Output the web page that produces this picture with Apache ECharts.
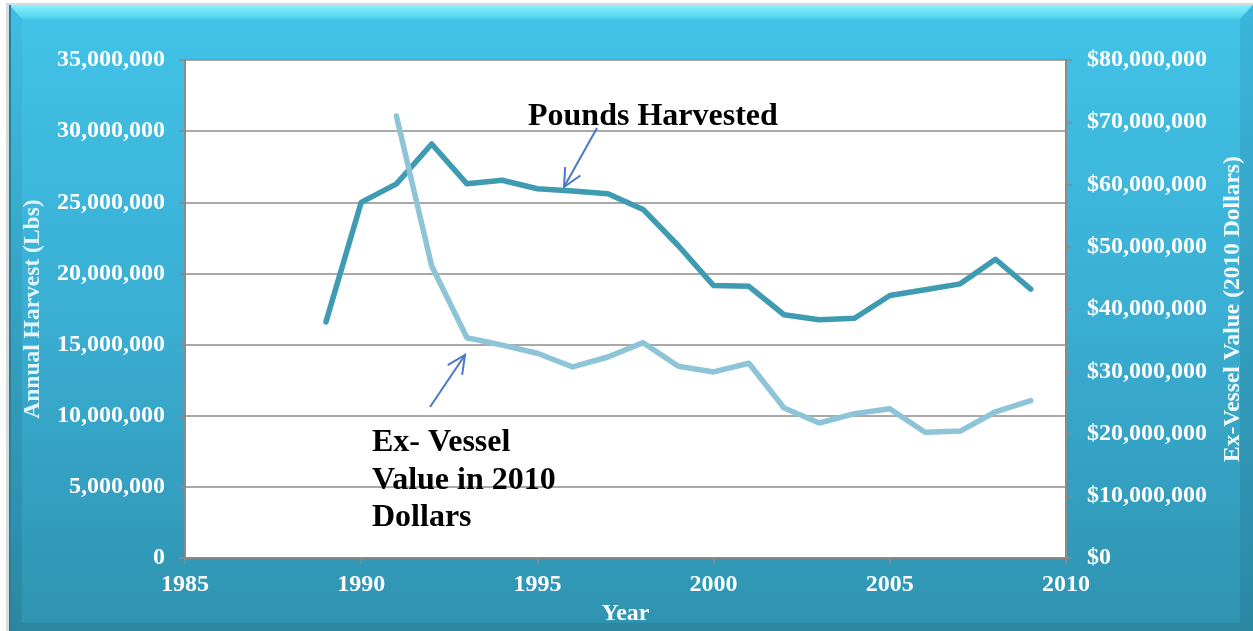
<!DOCTYPE html>
<html><head><meta charset="utf-8">
<script src="https://cdn.jsdelivr.net/npm/echarts@6/dist/echarts.min.js"></script>
<style>html,body{margin:0;padding:0;background:#fff}#c{width:1253px;height:631px}</style>
</head><body><div id="c"></div>
<script>
// ---- data ----
const poundsYears = [1989,1990,1991,1992,1993,1994,1995,1996,1997,1998,1999,2000,2001,2002,2003,2004,2005,2006,2007,2008,2009];
const poundsHarvested = [16600000,25000000,26300000,29100000,26300000,26550000,25950000,25800000,25600000,24500000,21950000,19150000,19100000,17100000,16750000,16850000,18450000,18850000,19270000,21000000,18900000];
const valueYears = [1991,1992,1993,1994,1995,1996,1997,1998,1999,2000,2001,2002,2003,2004,2005,2006,2007,2008,2009];
const exVesselValue = [71000000,46900000,35400000,34200000,32900000,30700000,32300000,34600000,30800000,29900000,31300000,24100000,21700000,23200000,24000000,20200000,20400000,23500000,25300000];
const xTicks = [1985,1990,1995,2000,2005,2010];
const leftTicks = [0,5000000,10000000,15000000,20000000,25000000,30000000,35000000];
const rightTicks = [0,10000000,20000000,30000000,40000000,50000000,60000000,70000000,80000000];

const FONT = "'Liberation Serif','Times New Roman',serif";
const fmt = v => String(Math.round(v)).replace(/\B(?=(\d{3})+(?!\d))/g, ',');

function arrow(x1, y1, x2, y2, color) {
  const a = Math.atan2(y2 - y1, x2 - x1), L = 20, w = 0.45;
  const p1 = [x2 - L * Math.cos(a - w), y2 - L * Math.sin(a - w)];
  const p2 = [x2 - L * Math.cos(a + w), y2 - L * Math.sin(a + w)];
  return [
    { type: 'line', z: 100, shape: { x1, y1, x2, y2 }, style: { stroke: color, lineWidth: 2 } },
    { type: 'polyline', z: 100, shape: { points: [p1, [x2, y2], p2] }, style: { stroke: color, lineWidth: 2, fill: null } }
  ];
}

const chart = echarts.init(document.getElementById('c'), null, { renderer: 'canvas' });
const W = 1253, H = 631;
const bg = [
  { type: 'rect', z: -10, silent: true, shape: { x: 0, y: 0, width: W, height: H }, style: { fill: '#ffffff' } },
  { type: 'rect', z: -9, silent: true, shape: { x: 6, y: 3, width: W - 6, height: H - 3 }, style: { fill: '#d5dcde' } },
  { type: 'rect', z: -8, silent: true, shape: { x: 9, y: 5, width: W - 9, height: H - 5 },
    style: { fill: new echarts.graphic.LinearGradient(0, 0, 0, 1, [
      { offset: 0, color: '#42c3e8' }, { offset: 0.5, color: '#3aaed3' }, { offset: 1, color: '#2f93b0' }]) } },
  { type: 'polygon', z: -7, silent: true, shape: { points: [[9,5],[W,5],[W-13,19],[22,19]] },
    style: { fill: new echarts.graphic.LinearGradient(0, 0, 0, 1, [
      { offset: 0, color: '#86f2fc' }, { offset: 1, color: '#4fd0ee' }]) } },
  { type: 'polygon', z: -7, silent: true, shape: { points: [[9,5],[22,19],[22,H-8],[9,H]] },
    style: { fill: new echarts.graphic.LinearGradient(0, 0, 0, 1, [
      { offset: 0, color: '#3fbde2' }, { offset: 1, color: '#2a87a2' }]) } },
  { type: 'polygon', z: -7, silent: true, shape: { points: [[W,5],[W,H],[W-13,H-8],[W-13,19]] },
    style: { fill: new echarts.graphic.LinearGradient(0, 0, 0, 1, [
      { offset: 0, color: '#3cb6dc' }, { offset: 1, color: '#2b88a3' }]) } },
  { type: 'polygon', z: -7, silent: true, shape: { points: [[9,H],[22,H-8],[W-13,H-8],[W,H]] },
    style: { fill: '#2c86a0' } },
  { type: 'rect', z: -6, silent: true, shape: { x: 9, y: 5, width: 2, height: H - 5 }, style: { fill: '#2a7f98' } }
];

const annotations = [
  { type: 'text', z: 100, left: 528, top: 101, style: { text: 'Pounds Harvested', font: "bold 32px " + FONT, fill: '#000' } },
  { type: 'text', z: 100, left: 372, top: 424, style: { text: 'Ex- Vessel\nValue in 2010\nDollars', font: "bold 32px " + FONT, lineHeight: 37.5, fill: '#000' } },
  ...arrow(597, 128, 564, 187, '#4a78c4'),
  ...arrow(430, 407, 465, 355, '#4a78c4')
];

const labelStyle = { color: '#ffffff', fontFamily: FONT, fontWeight: 'bold', fontSize: 24 };

chart.setOption({
  animation: false,
  backgroundColor: 'transparent',
  grid: { left: 185, right: 185, top: 60, bottom: 63, show: true, backgroundColor: '#ffffff', borderWidth: 0 },
  graphic: bg.concat(annotations),
  xAxis: {
    type: 'value', min: xTicks[0], max: xTicks[xTicks.length - 1], interval: 5,
    name: 'Year', nameLocation: 'middle', nameGap: 36,
    nameTextStyle: { color: '#ffffff', fontFamily: FONT, fontWeight: 'bold', fontSize: 24 },
    axisLine: { show: true, onZero: false, lineStyle: { color: '#8a8a8a', width: 2 } },
    axisTick: { show: true, length: 6, lineStyle: { color: '#8a8a8a', width: 1.5 } },
    axisLabel: Object.assign({ margin: 15, formatter: v => String(v) }, labelStyle),
    splitLine: { show: false }
  },
  yAxis: [
    {
      type: 'value', min: leftTicks[0], max: leftTicks[leftTicks.length - 1], interval: 5000000, position: 'left',
      name: 'Annual Harvest (Lbs)', nameLocation: 'middle', nameGap: 140, nameRotate: 90,
      nameTextStyle: { color: '#e2f5fa', fontFamily: FONT, fontWeight: 'bold', fontSize: 23.5 },
      axisLine: { show: true, lineStyle: { color: '#8a8a8a', width: 2 } },
      axisTick: { show: true, length: 6, lineStyle: { color: '#8a8a8a', width: 1.5 } },
      axisLabel: Object.assign({ margin: 20, formatter: fmt }, labelStyle),
      splitLine: { show: true, lineStyle: { color: '#8c8c8c', width: 1.5 } }
    },
    {
      type: 'value', min: rightTicks[0], max: rightTicks[rightTicks.length - 1], interval: 10000000, position: 'right',
      name: 'Ex-Vessel Value (2010 Dollars)', nameLocation: 'middle', nameGap: 155, nameRotate: 90,
      nameTextStyle: { color: '#f0fafc', fontFamily: FONT, fontWeight: 'bold', fontSize: 23.5 },
      axisLine: { show: true, lineStyle: { color: '#8a8a8a', width: 2 } },
      axisTick: { show: true, length: 6, lineStyle: { color: '#8a8a8a', width: 1.5 } },
      axisLabel: Object.assign({ margin: 21, formatter: v => '$' + fmt(v) }, labelStyle),
      splitLine: { show: false }
    }
  ],
  series: [
    {
      name: 'Pounds Harvested', type: 'line', yAxisIndex: 0, showSymbol: false, symbol: 'none',
      data: poundsYears.map((y, i) => [y, poundsHarvested[i]]),
      lineStyle: { color: '#3f9bb1', width: 5.5, join: 'round', cap: 'round' }, z: 3
    },
    {
      name: 'Ex-Vessel Value in 2010 Dollars', type: 'line', yAxisIndex: 1, showSymbol: false, symbol: 'none',
      data: valueYears.map((y, i) => [y, exVesselValue[i]]),
      lineStyle: { color: '#8ec4d7', width: 5.5, join: 'round', cap: 'round' }, z: 4
    }
  ]
});
</script></body></html>
